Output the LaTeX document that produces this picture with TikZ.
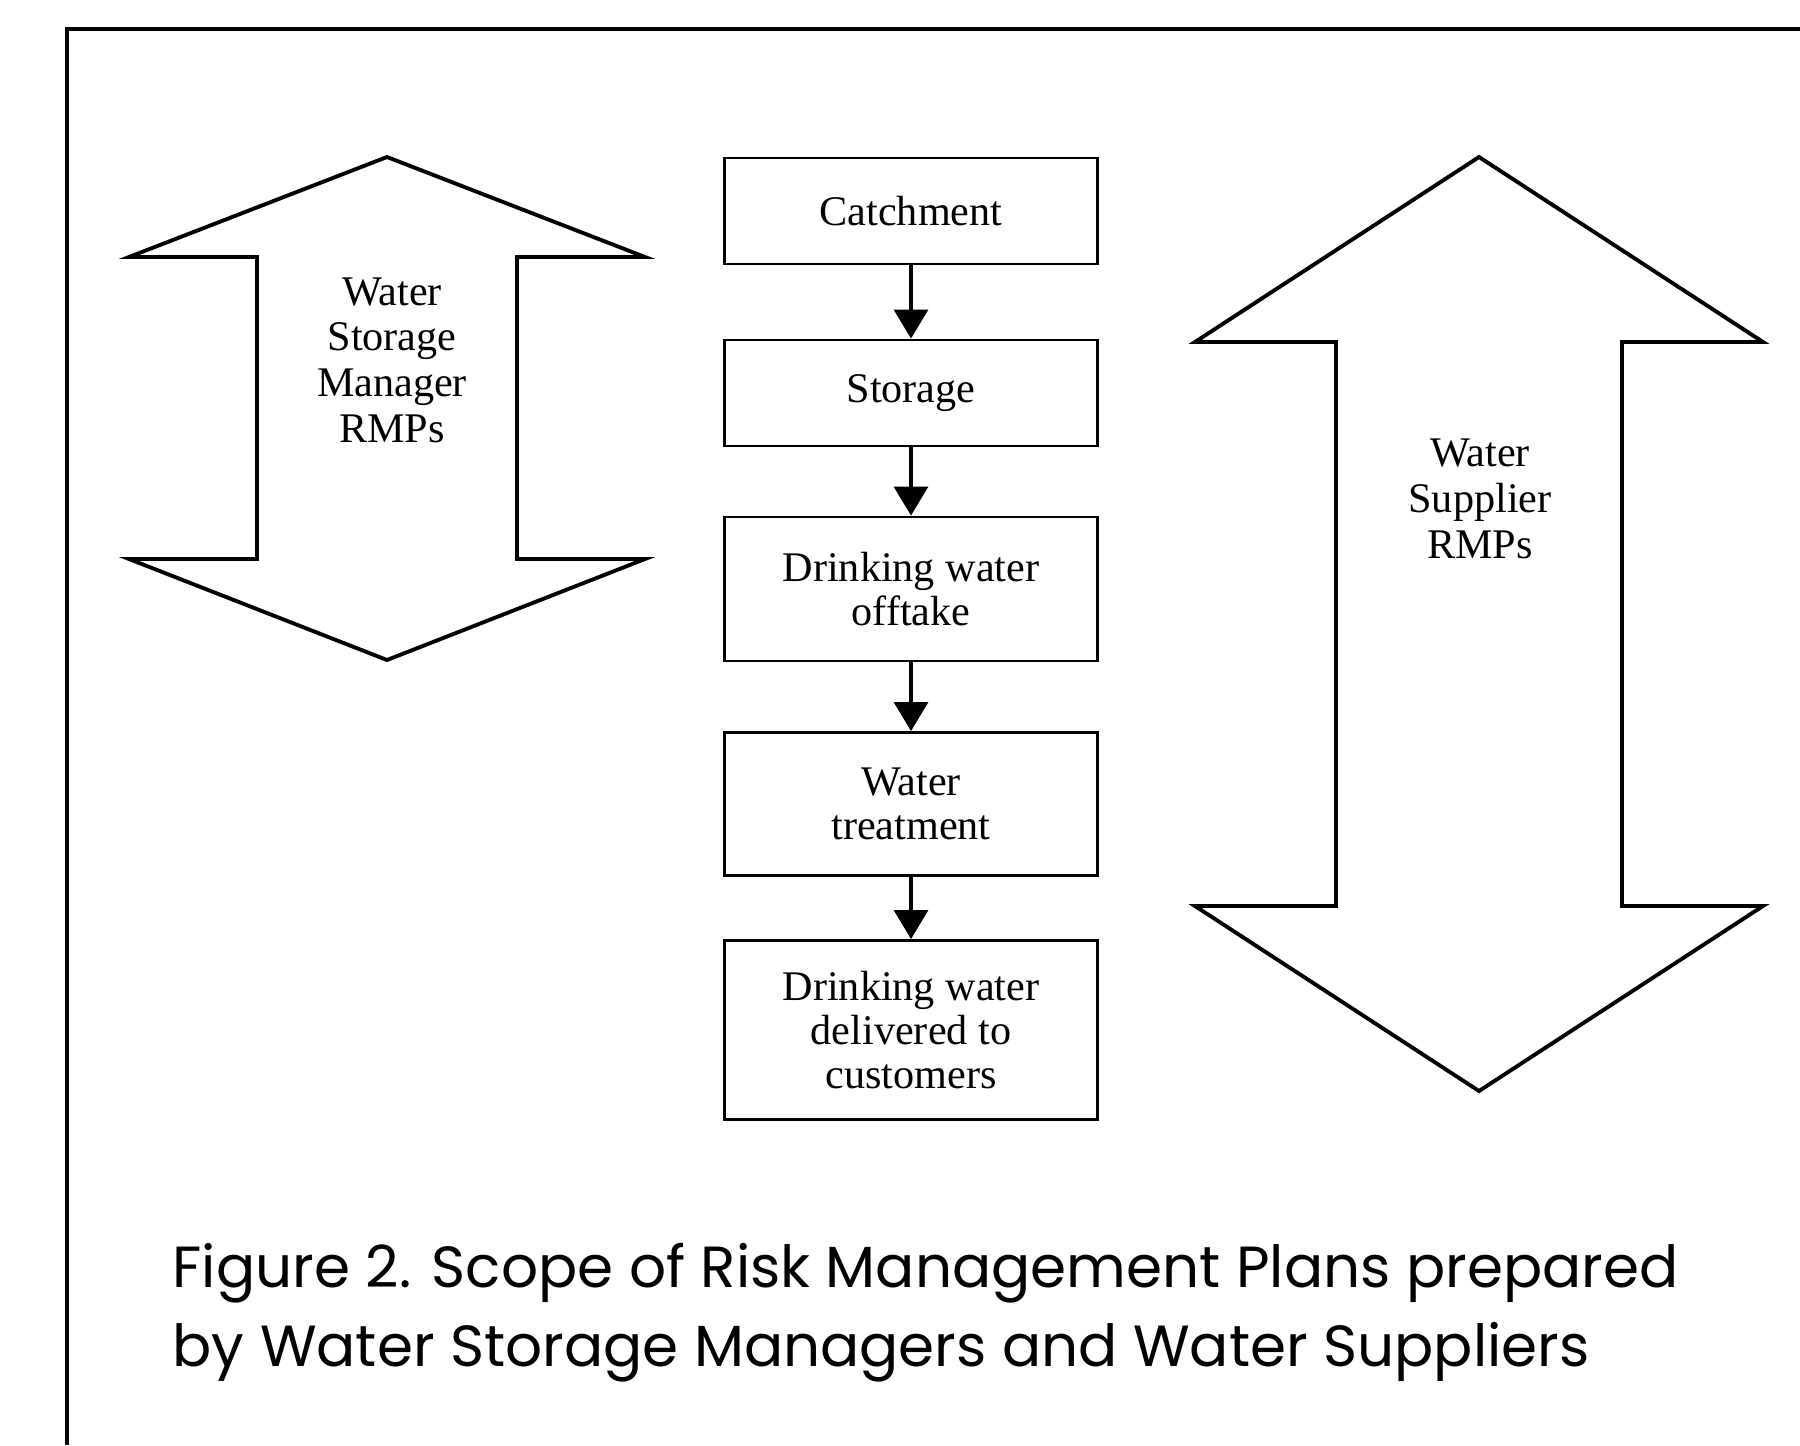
\documentclass[tikz,border=0pt]{standalone}
\usepackage{fontspec}
\setmainfont{Liberation Serif}
\newfontfamily\capfont{Poppins}
\usepackage{tikz}
\usetikzlibrary{arrows.meta}

\tikzset{
  stage/.style={draw, line width=0.8pt, minimum width=3.73cm, inner sep=0pt,
    align=center, font=\fontsize{12}{12.6}\selectfont},
  flow/.style={line width=0.9pt, -{Triangle[width=0.34cm,length=0.29cm]}},
  scopearrow/.style={line width=1.1pt},
  rmp/.style={align=center, inner sep=0pt, font=\fontsize{12}{13}\selectfont},
}

\begin{document}
\begin{tikzpicture}[x=0.01cm, y=-0.01cm]
  \useasboundingbox (0,0) rectangle (1800,1445);
  % frame
  \draw[line width=1pt] (1800,29) -- (67,29) -- (67,1445);

  % left scope arrow
  \draw[scopearrow] (387,157) -- (645,257) -- (517,257) -- (517,559) -- (645,559)
    -- (387,660) -- (129,559) -- (257,559) -- (257,257) -- (129,257) -- cycle;
  \node[rmp] (wsm) at (392,360) {Water\\Storage\\Manager\\RMPs};

  % right scope arrow
  \draw[scopearrow] (1479,157) -- (1763,342) -- (1622,342) -- (1622,906) -- (1763,906)
    -- (1479,1091) -- (1195,906) -- (1336,906) -- (1336,342) -- (1195,342) -- cycle;
  \node[rmp] (wsup) at (1480,499) {Water\\Supplier\\RMPs};

  % stages
  \node[stage, minimum height=1.06cm] (catch) at (911,211) {Catchment};
  \node[stage, minimum height=1.06cm] (store) at (911,393) {Storage};
  \node[stage, minimum height=1.44cm] (offtake) at (911,589) {Drinking water\\offtake};
  \node[stage, minimum height=1.43cm] (treat) at (911,804) {Water\\treatment};
  \node[stage, minimum height=1.79cm] (deliver) at (911,1030) {Drinking water\\delivered to\\customers};

  \draw[flow] (catch) -- (store);
  \draw[flow] (store) -- (offtake);
  \draw[flow] (offtake) -- (treat);
  \draw[flow] (treat) -- (deliver);

  % caption
  \node[anchor=base west, align=left, inner sep=0pt,
    font=\capfont\fontsize{16.5}{22.4}\selectfont] (cap) at (172,1366)
    {Figure 2. Scope of Risk Management Plans prepared\\by Water Storage Managers and Water Suppliers};
\end{tikzpicture}
\end{document}
